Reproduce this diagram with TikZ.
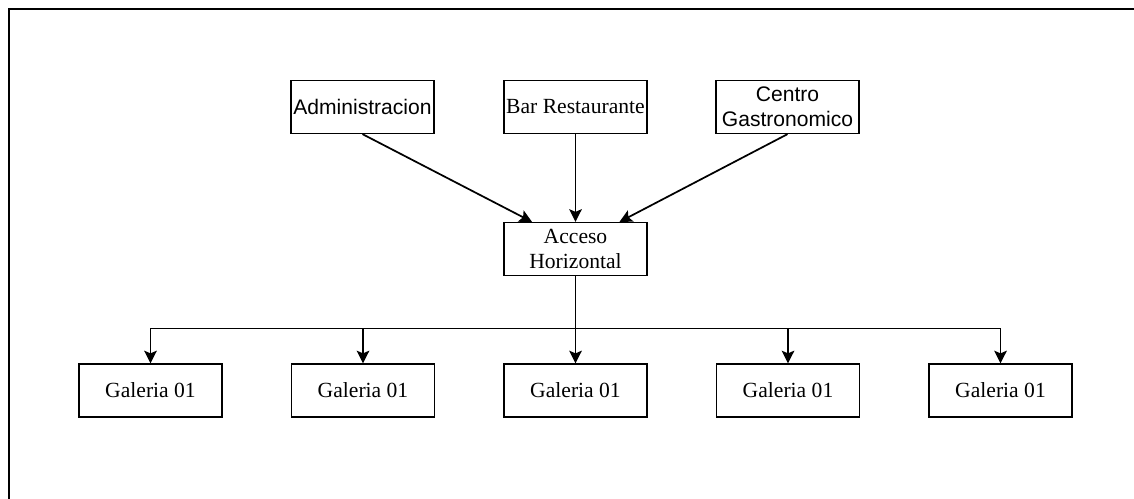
\documentclass[tikz,border=0pt]{standalone}
\usepackage{fontspec}
\setmainfont{Liberation Serif}
\setsansfont{Liberation Sans}
\usetikzlibrary{arrows.meta, positioning, calc}
\definecolor{lineK}{HTML}{000000}

\begin{document}
\begin{tikzpicture}[
  x=0.75pt, y=-0.75pt,
  box/.style={
    draw=lineK, fill=white,
    font=\fontsize{16.2}{18.8}\selectfont,
    minimum width=107pt, minimum height=39.5pt,
    inner sep=0pt, align=center,
    line width=1.2pt
  },
  sbox/.style={box, font=\sffamily\fontsize{15.8}{18.8}\selectfont},
  arr/.style={-{Stealth[length=9.5pt, width=9.5pt, inset=2pt]}, line width=1.3pt, lineK},
  bus/.style={line width=1.3pt, lineK},
]
\useasboundingbox (0,0) rectangle (1134,499);

%% ═══ MARCO ═══
\draw[line width=1.5pt] (8.5,499) -- (8.5,9.5) -- (1134,9.5);

%% ═══ SERVICIOS ═══
\node[sbox] (admin) at (362.5,107) {Administracion};
\node[box] (bar) at (575.5,107) {Bar Restaurante};
\node[sbox] (centro) at (787.5,107) {Centro\\Gastronomico};

%% ═══ ACCESO ═══
\node[box] (acceso) at (575.5,249) {Acceso\\Horizontal};
\draw[arr] (admin.south) -- ($(acceso.north)+(-43.5,0)$);
\draw[arr] (bar.south) -- (acceso.north);
\draw[arr] (centro.south) -- ($(acceso.north)+(44,0)$);

%% ═══ GALERIAS ═══
\node[box] (gal1) at (150.5,390.5) {Galeria 01};
\node[box] (gal2) at (363,390.5) {Galeria 01};
\node[box] (gal3) at (575.5,390.5) {Galeria 01};
\node[box] (gal4) at (788,390.5) {Galeria 01};
\node[box] (gal5) at (1000.5,390.5) {Galeria 01};

\coordinate (split) at (575.5,328.5);
\draw[bus] (acceso.south) -- (split);
\draw[arr] (split) -| (gal1.north);
\draw[arr] (split) -| (gal2.north);
\draw[arr] (split) -- (gal3.north);
\draw[arr] (split) -| (gal4.north);
\draw[arr] (split) -| (gal5.north);

\end{tikzpicture}
\end{document}
